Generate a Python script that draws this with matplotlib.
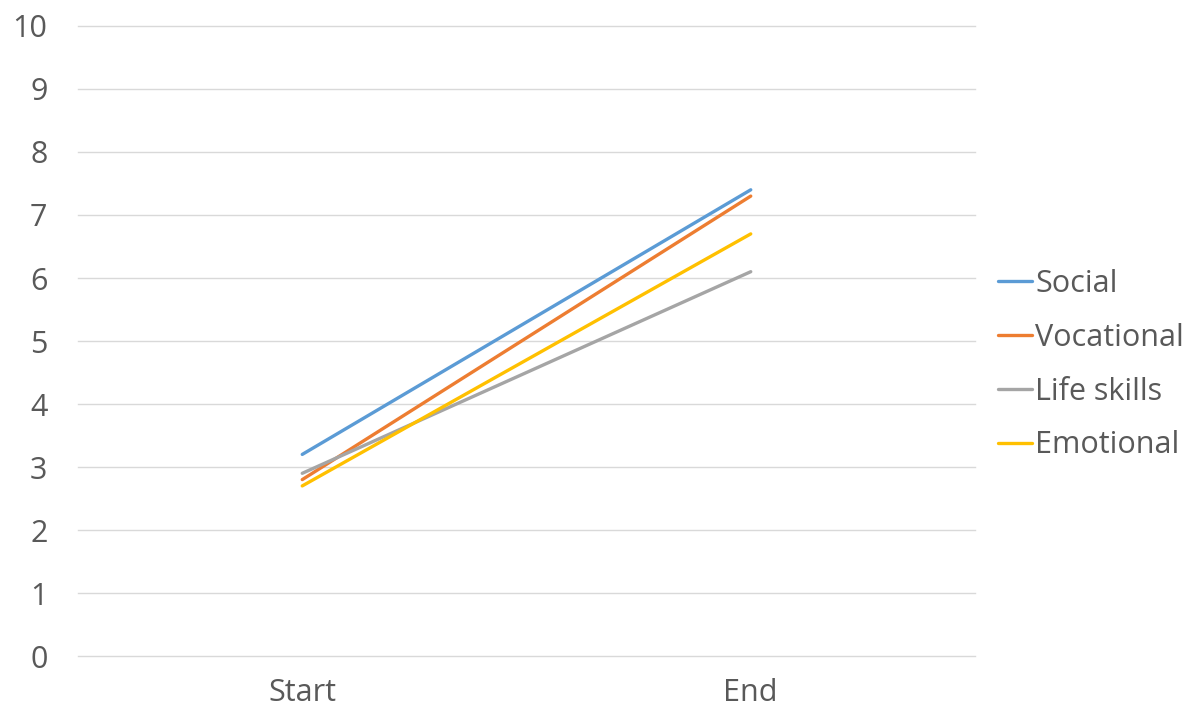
import matplotlib
matplotlib.use("Agg")
import matplotlib.pyplot as plt

categories = ["Start", "End"]
series_names = ["Social", "Vocational", "Life skills", "Emotional"]
social = [3.2, 7.4]
vocational = [2.8, 7.3]
life_skills = [2.9, 6.1]
emotional = [2.7, 6.7]
colors = ["#5B9BD5", "#ED7D31", "#A5A5A5", "#FFC000"]
y_ticks = list(range(0, 11))

plt.rcParams["font.family"] = ["Open Sans", "DejaVu Sans"]
text_color = "#595959"
fs = 22

fig = plt.figure(figsize=(12, 7.08), dpi=100)
ax = fig.add_axes([0.065, 0.0734, 0.7475, 0.8899])

x = list(range(len(categories)))
lines = []
for name, vals, c in zip(series_names, [social, vocational, life_skills, emotional], colors):
    (ln,) = ax.plot(x, vals, color=c, lw=2.4, label=name, solid_capstyle="round")
    lines.append(ln)

ax.set_xlim(-0.5, 1.5)
ax.set_ylim(0, 10)
ax.set_yticks(y_ticks)
ax.set_xticks(x)
ax.set_xticklabels(categories)
ax.grid(axis="y", color="#D9D9D9", lw=1)
for gl in ax.get_ygridlines():
    gl.set_clip_on(False)
ax.set_axisbelow(True)
for s in ax.spines.values():
    s.set_visible(False)
ax.tick_params(axis="both", length=0, labelsize=fs, colors=text_color)
ax.tick_params(axis="y", pad=22)
ax.tick_params(axis="x", pad=16)
for t in ax.get_yticklabels() + ax.get_xticklabels():
    t.set_color(text_color)

leg = fig.legend(handles=lines, loc="center left", bbox_to_anchor=(0.832, 0.485),
                 frameon=False, fontsize=fs, handlelength=1.1, handletextpad=0.1,
                 labelspacing=0.78, borderaxespad=0, borderpad=0)
for t in leg.get_texts():
    t.set_color(text_color)

fig.savefig("out.png", dpi=100)
